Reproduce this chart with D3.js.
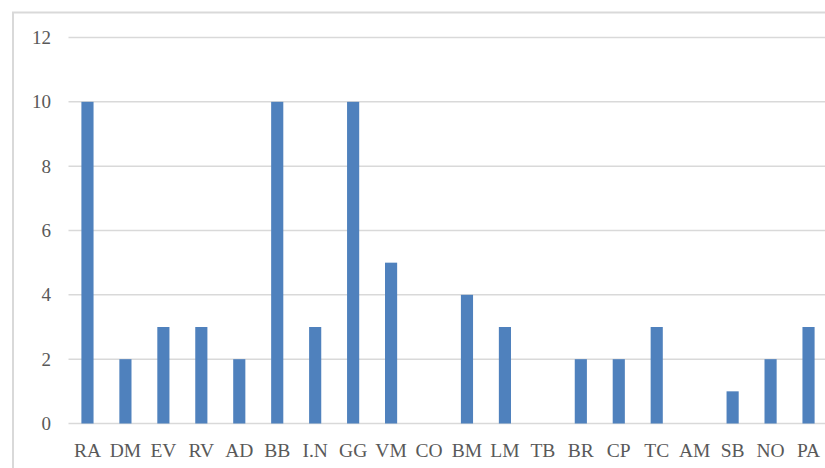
<!DOCTYPE html>
<html>
<head>
<meta charset="utf-8">
<script src="https://cdn.jsdelivr.net/npm/d3@7"></script>
<style>
  html, body { margin: 0; padding: 0; background: #ffffff; }
  svg { display: block; }
  .lbl text { font-family: "Liberation Serif", "Times New Roman", "DejaVu Serif", serif; fill: #595959; }
</style>
</head>
<body>
<svg id="chart" width="825" height="468"></svg>
<script>
// Category codes along the x axis
const categories = ["RA", "DM", "EV", "RV", "AD", "BB", "I.N", "GG", "VM", "CO",
                    "BM", "LM", "TB", "BR", "CP", "TC", "AM", "SB", "NO", "PA"];
// Count for each category
const values = [10, 2, 3, 3, 2, 10, 3, 10, 5, 0, 4, 3, 0, 2, 2, 3, 0, 1, 2, 3];
// Y axis tick values
const yTicks = [0, 2, 4, 6, 8, 10, 12];

const svg = d3.select("#chart");
const W = 825, H = 468;

// Plot area
const plot = { left: 68.5, right: 827.5, top: 37.5, bottom: 423.5 };

// Outer chart frame (top and left edges)
svg.append("path")
  .attr("d", `M13,${H} L13,12.5 L${W},12.5`)
  .attr("fill", "none")
  .attr("stroke", "#d9d9d9")
  .attr("stroke-width", 2);

const x = d3.scaleBand()
  .domain(categories)
  .range([plot.left, plot.right])
  .paddingInner(0)
  .paddingOuter(0);

const y = d3.scaleLinear()
  .domain([0, 12])
  .range([plot.bottom, plot.top]);

// Horizontal gridlines
svg.append("g")
  .selectAll("line")
  .data(yTicks)
  .join("line")
  .attr("x1", plot.left)
  .attr("x2", W)
  .attr("y1", d => y(d))
  .attr("y2", d => y(d))
  .attr("stroke", "#d9d9d9")
  .attr("stroke-width", 1.5);

// Y axis labels
const yAxis = d3.axisLeft(y).tickValues(yTicks).tickSize(0).tickPadding(0);
const gy = svg.append("g")
  .attr("class", "lbl")
  .attr("transform", "translate(51,0)")
  .call(yAxis);
gy.select(".domain").remove();
gy.selectAll("text").style("font-size", "19px");

// Bars
const barFrac = 0.32;
svg.append("g")
  .selectAll("rect")
  .data(values)
  .join("rect")
  .attr("x", (d, i) => x(categories[i]) + x.bandwidth() * (1 - barFrac) / 2)
  .attr("width", x.bandwidth() * barFrac)
  .attr("y", d => y(d))
  .attr("height", d => y(0) - y(d))
  .attr("fill", "#4f81bd");

// X axis category labels
const xAxis = d3.axisBottom(x).tickSize(0).tickPadding(0);
const gx = svg.append("g")
  .attr("class", "lbl")
  .attr("transform", `translate(0,${plot.bottom})`)
  .call(xAxis);
gx.select(".domain").remove();
gx.selectAll("text")
  .attr("dy", null)
  .attr("y", 33)
  .style("font-size", "19.5px");
</script>
</body>
</html>
